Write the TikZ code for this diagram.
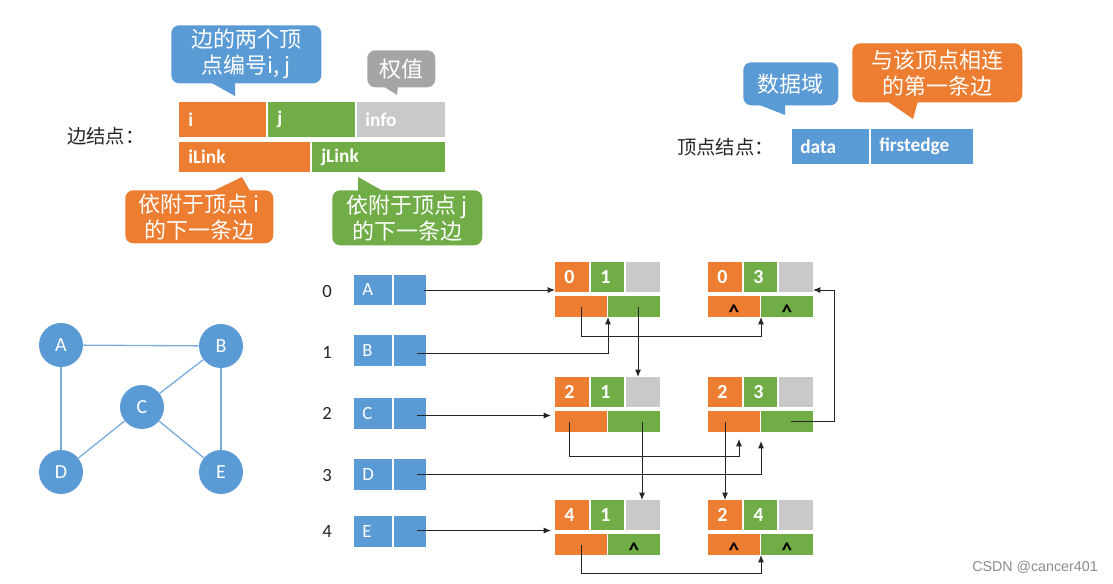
\documentclass[tikz,border=0pt]{standalone}
\usepackage{fontspec}
\setmainfont{Carlito}
\newfontfamily\cjk{Noto Sans CJK SC}
\newfontfamily\wmfont{Liberation Sans}
\usetikzlibrary{calc,arrows.meta}
\definecolor{cOr}{HTML}{ED7D31}
\definecolor{cGr}{HTML}{70AD47}
\definecolor{cGy}{HTML}{C9C9C9}
\definecolor{cBl}{HTML}{5B9BD5}
\definecolor{cDg}{HTML}{A5A5A5}
\definecolor{cLine}{HTML}{7AAEDF}
\tikzset{
  cellsty/.style={inner sep=0pt, outer sep=0pt, anchor=north west, draw=none},
  dig/.style={anchor=west, inner sep=0pt, text=white, font=\fontsize{15}{15}\selectfont\bfseries},
  tlab/.style={anchor=west, inner sep=0pt, text=white, font=\fontsize{14.5}{14.5}\selectfont\bfseries},
  vlab/.style={anchor=west, inner sep=0pt, text=white, font=\fontsize{14}{14}\selectfont},
  nul/.style={anchor=base, inner sep=0pt, text=black, font=\fontsize{16}{16}\selectfont\bfseries},
  idx/.style={inner sep=0pt, text=black!85, font=\fontsize{14}{14}\selectfont},
  bubble/.style={anchor=north west, rounded corners=6pt, inner sep=0pt, align=center, text=white,
     font=\cjk\fontsize{16.5}{19.5}\selectfont},
  title/.style={anchor=west, inner sep=0pt, text=black!85, font=\cjk\fontsize{14.5}{14.5}\selectfont},
  gv/.style={circle, fill=cBl, minimum size=33pt, inner sep=0pt, text=white, font=\fontsize{15}{15}\selectfont},
  gedge/.style={draw=cLine, line width=1pt},
  arr/.style={draw=black!85, line width=0.7pt, -{Latex[length=5.5pt,width=4.5pt]}},
}
\newcommand\cellbox[6]{%
  \node[cellsty, fill=#6, minimum width={((#4)-(#2))*0.75pt}, minimum height={((#5)-(#3))*0.75pt}] (#1) at (#2,#3) {};}
\newcommand\enode[7]{%
  \cellbox{#1-i}{#2}{#3}{#2+34}{#3+30}{cOr}
  \cellbox{#1-j}{#2+36}{#3}{#2+69}{#3+30}{cGr}
  \cellbox{#1-w}{#2+71}{#3}{#2+105}{#3+30}{cGy}
  \cellbox{#1-il}{#2}{#3+34}{#2+52}{#3+55}{cOr}
  \cellbox{#1-jl}{#2+53}{#3+34}{#2+105}{#3+55}{cGr}
  \node[dig] (#1-it) at ($(#1-i.west)+(9,0)$) {#4};
  \node[dig] (#1-jt) at ($(#1-j.west)+(9,0)$) {#5};
  \node[nul] (#1-ilt) at ($(#1-il.center)+(0,13)$) {#6};
  \node[nul] (#1-jlt) at ($(#1-jl.center)+(0,13)$) {#7};
}
\newcommand\vertbox[4]{% name, letter, top, bottom
  \cellbox{v#1}{354}{#3}{392}{#4}{cBl}
  \cellbox{p#1}{394}{#3}{426}{#4}{cBl}
  \node[vlab] (l#1) at ($(v#1.west)+(8,0)$) {#2};
}
\begin{document}
\begin{tikzpicture}[x=0.75pt,y=-0.75pt]
\fill[white] (0,0) rectangle (1113,583);
\useasboundingbox (0,0) rectangle (1113,583);

% ---------- edge node template ----------
\node[title] (t1) at (67,136) {边结点：};
\cellbox{ti}{179}{102}{266}{137}{cOr}
\cellbox{tj}{268}{102}{355}{137}{cGr}
\cellbox{tw}{357}{102}{445}{137}{cGy}
\cellbox{til}{179}{142}{310}{172}{cOr}
\cellbox{tjl}{312}{142}{445}{172}{cGr}
\node[tlab] (tit) at ($(ti.west)+(9,0)$) {i};
\node[tlab] (tjt) at ($(tj.west)+(9,0)$) {j};
\node[tlab] (twt) at ($(tw.west)+(8,0)$) {info};
\node[tlab] (tilt) at ($(til.west)+(9,0)$) {iLink};
\node[tlab] (tjlt) at ($(tjl.west)+(9,0)$) {jLink};

% callouts
\node[bubble, fill=cBl, minimum width=112.5pt, minimum height=43.5pt] (cb1) at (171,25) {边的两个顶\\点编号i, j};
\fill[cBl] (210,82) -- (235,96) -- (235,82) -- cycle;
\node[bubble, fill=cDg, minimum width=51pt, minimum height=27.75pt] (cg) at (367,50) {权值};
\fill[cDg] (383,86) -- (397,95) -- (398,86) -- cycle;
\node[bubble, fill=cOr, minimum width=111pt, minimum height=39.75pt] (co) at (125,190) {依附于顶点 i\\的下一条边};
\fill[cOr] (213,191) -- (242,177) -- (250,191) -- cycle;
\node[bubble, fill=cGr, minimum width=112.5pt, minimum height=41.25pt] (cgr) at (332,190) {依附于顶点 j\\的下一条边};
\fill[cGr] (358,191) -- (358,177) -- (383,191) -- cycle;

% ---------- vertex node template ----------
\node[title] (t2) at (677,147) {顶点结点：};
\cellbox{td}{792}{129}{869}{164}{cBl}
\cellbox{tf}{871}{129}{973}{164}{cBl}
\node[tlab] (tdt) at ($(td.west)+(8,0)$) {data};
\node[tlab] (tft) at ($(tf.west)+(8,0)$) {firstedge};
\node[bubble, fill=cBl, minimum width=71.25pt, minimum height=32.25pt] (cb2) at (743,62) {数据域};
\fill[cBl] (757,104) -- (785,115) -- (785,104) -- cycle;
\node[bubble, fill=cOr, minimum width=127.5pt, minimum height=44.25pt] (co2) at (852,43) {与该顶点相连\\的第一条边};
\fill[cOr] (887,101) -- (913,119) -- (918,101) -- cycle;

% ---------- graph ----------
\node[gv] (A) at (61,345) {A};
\node[gv] (B) at (221,346) {B};
\node[gv] (C) at (142,407) {C};
\node[gv] (D) at (61,472) {D};
\node[gv] (E) at (221,472) {E};
\draw[gedge] (A) -- (B);
\draw[gedge] (A) -- (D);
\draw[gedge] (B) -- (C);
\draw[gedge] (B) -- (E);
\draw[gedge] (C) -- (D);
\draw[gedge] (C) -- (E);

% ---------- adjacency multilist ----------
\node[idx] (i0) at (327,291) {0};
\node[idx] (i1) at (327,352) {1};
\node[idx] (i2) at (327,413) {2};
\node[idx] (i3) at (327,475) {3};
\node[idx] (i4) at (327,531) {4};
\vertbox{A}{A}{275}{305}
\vertbox{B}{B}{335}{366}
\vertbox{C}{C}{398}{429}
\vertbox{D}{D}{459}{490}
\vertbox{E}{E}{516}{547}

\enode{e01}{555}{262}{0}{1}{}{}
\enode{e03}{708}{262}{0}{3}{\textasciicircum}{\textasciicircum}
\enode{e21}{555}{377}{2}{1}{}{}
\enode{e23}{708}{377}{2}{3}{}{}
\enode{e41}{555}{500}{4}{1}{}{\textasciicircum}
\enode{e24}{708}{500}{2}{4}{\textasciicircum}{\textasciicircum}

% connectors
\draw[arr] ($(pA.center)+(14,0)$) -- (pA.center -| e01-i.west);
\draw[arr] ($(pB.center)+(7,3)$) -| (e01-jl.south west);
\draw[arr] (e01-il.center) -- ($(e01-il.south)+(0,19)$) -| (e03-jl.south west);
\coordinate (t1x) at ($(e21-w.north)+(-5,0)$);
\draw[arr] (t1x |- e01-jl.center) -- (t1x);
\draw[arr, shorten >=3pt] ($(pC.center)+(7,2)$) -- ($(pC.center -| e21-il.west)+(0,2)$);
\draw[arr] ($(e23-jl.center)+(4,0)$) -- ($(e23-jl.east)+(21,0)$) |- ($(e03-w.south east)+(0,-2)$);
\draw[arr] ($(e21-il.center)+(-12,0)$) -- ($(e21-il.south)+(-12,24)$) -| ($(e23-il.south)+(5,7)$);
\coordinate (t2x) at ($(e41-w.north)+(-1,0)$);
\draw[arr] (t2x |- e21-jl.center) -- (t2x);
\draw[arr] ($(pD.center)+(7,0)$) -| ($(e23-jl.south west)+(0,9)$);
\coordinate (t3x) at (e24-i.north);
\draw[arr] (t3x |- e23-il.center) -- (t3x);
\draw[arr, shorten >=3pt] ($(pE.center)+(7,-1)$) -- ($(pE.center -| e41-il.west)+(0,-1)$);
\draw[arr] (e41-il.center) -- ($(e41-il.south)+(0,18)$) -| (e24-jl.south west);

% watermark
\node[anchor=east, inner sep=0pt, text=black!45, font=\wmfont\fontsize{10.7}{10.7}\selectfont] (wm) at (1098,567) {CSDN @cancer401};
\end{tikzpicture}
\end{document}
